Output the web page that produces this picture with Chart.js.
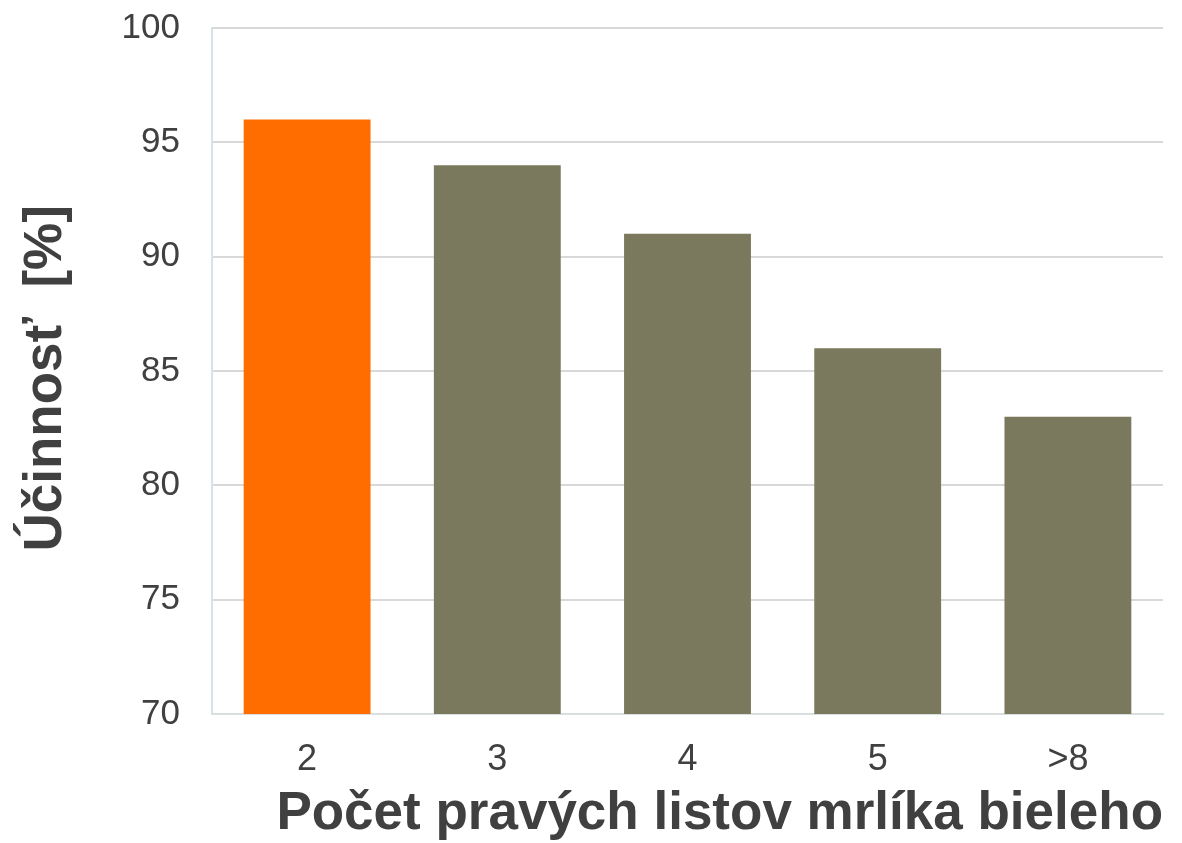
<!DOCTYPE html>
<html>
<head>
<meta charset="utf-8">
<script src="https://cdn.jsdelivr.net/npm/chart.js@4/dist/chart.umd.min.js"></script>
<style>
  html, body { margin: 0; padding: 0; background: #fff; }
  #chart { display: block; }
</style>
</head>
<body>
<canvas id="chart" width="1182" height="843"></canvas>
<script>
// data
const categories = ['2', '3', '4', '5', '>8'];
const efficiency = [96, 94, 91, 86, 83];
const barColors = ['#FF6D00', '#7A795D', '#7A795D', '#7A795D', '#7A795D'];
const yTicks = [70, 75, 80, 85, 90, 95, 100];

const textColor = '#404040';
const fontFamily = '"Liberation Sans", Arial, sans-serif';

new Chart(document.getElementById('chart').getContext('2d'), {
    type: 'bar',
    data: {
        labels: categories,
        datasets: [{
            data: efficiency,
            backgroundColor: barColors,
            borderWidth: 0,
            categoryPercentage: 1,
            barPercentage: 0.667
        }]
    },
    options: {
        responsive: false,
        animation: false,
        layout: { padding: { top: 28, right: 19, left: 0, bottom: 0 } },
        plugins: { legend: { display: false }, tooltip: { enabled: false } },
        scales: {
            x: {
                grid: { display: false, drawTicks: false },
                border: { display: true, color: '#D9DEDF', width: 2 },
                ticks: { color: textColor, padding: 24, font: { family: fontFamily, size: 36 } },
                title: {
                    display: true,
                    text: 'Počet pravých listov mrlíka bieleho',
                    align: 'end',
                    color: textColor,
                    padding: { top: 0, bottom: 2 },
                    font: { family: fontFamily, size: 53, weight: 'bold', lineHeight: 1 }
                },
                afterFit: (scale) => { scale.height = 129; }
            },
            y: {
                min: 70,
                max: 100,
                afterBuildTicks: (scale) => { scale.ticks = yTicks.map(v => ({ value: v })); },
                // tick marks kept invisible, only used as the gap between labels and axis
                grid: { color: '#D9D9D9', lineWidth: 2, drawTicks: true, tickLength: 32, tickColor: 'rgba(0,0,0,0)' },
                border: { display: true, color: '#D5E3E6', width: 2 },
                ticks: { color: textColor, padding: 0, font: { family: fontFamily, size: 35 } },
                title: {
                    display: true,
                    text: 'Účinnosť  [%] ',
                    color: textColor,
                    padding: { top: 20, bottom: 0 },
                    font: { family: fontFamily, size: 53, weight: 'bold', lineHeight: 1 }
                },
                afterFit: (scale) => { scale.width = 212; }
            }
        }
    }
});
</script>
</body>
</html>
